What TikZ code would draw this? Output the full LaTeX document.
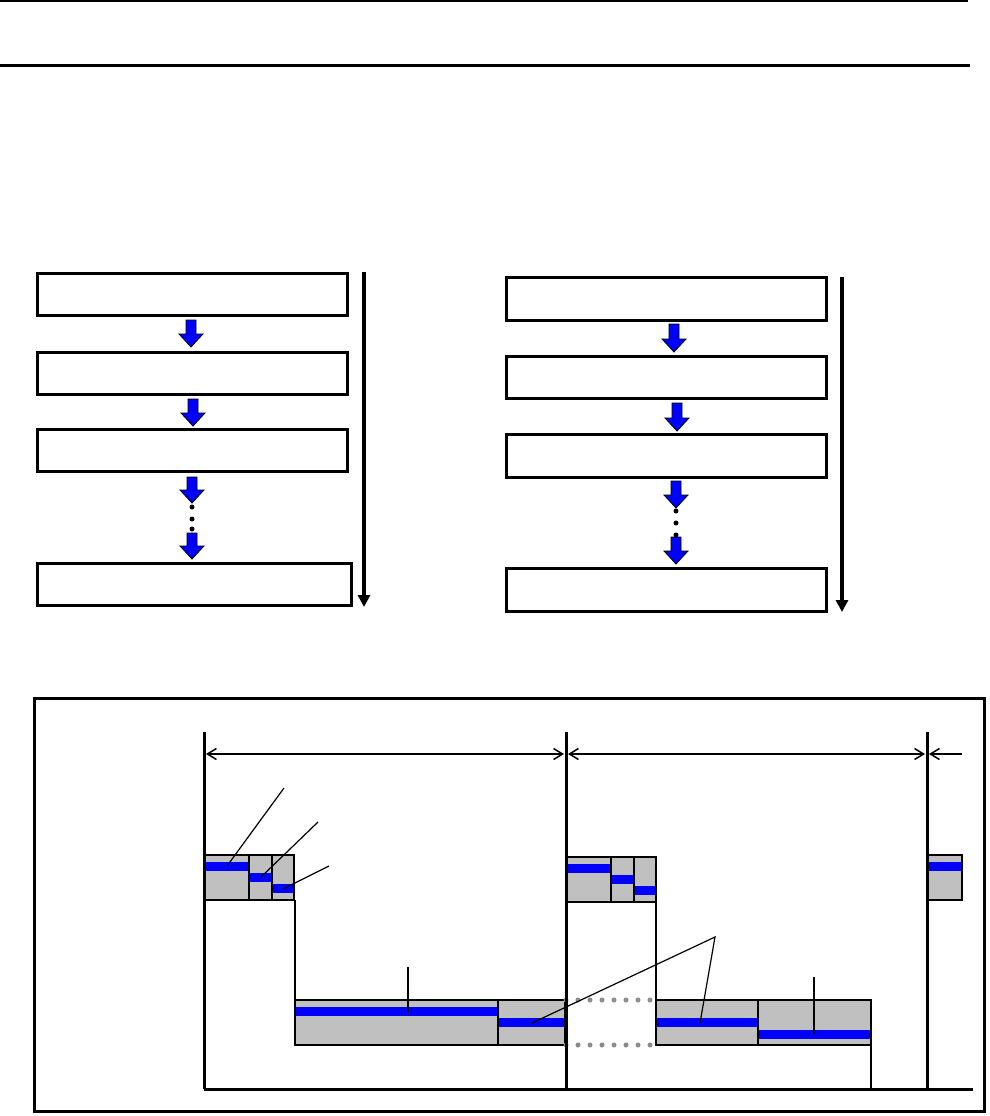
\documentclass[tikz,border=0pt]{standalone}
\usetikzlibrary{arrows.meta,calc}
\definecolor{slotgray}{HTML}{C0C0C0}
\definecolor{dotgray}{HTML}{8C8C8C}
\tikzset{
  flowbox/.style={draw=black, line width=3pt, minimum width=310pt, minimum height=42pt, inner sep=0pt},
  blockarrow/.style={draw=black, fill=blue, line width=0.8pt, line join=miter},
  longarrow/.style={-{Triangle[length=12pt,width=12pt]}, line width=4.5pt},
  dimarrow/.style={{Straight Barb[length=9pt,width=11pt]}-{Straight Barb[length=9pt,width=11pt]}, line width=1.5pt},
  halfdim/.style={{Straight Barb[length=9pt,width=11pt]}-, line width=1.5pt},
  slot/.style={fill=slotgray},
  slotedge/.style={draw=black, line width=1.6pt},
  bar/.style={fill=blue},
  trace/.style={line width=1.2pt},
  leader/.style={line width=1.2pt},
  axisline/.style={line width=3pt},
  gapdot/.style={circle, fill=dotgray, inner sep=0pt, minimum size=5pt}
}
\newcommand{\downblock}[3]{%
  \draw[blockarrow] (#1-5,#2) -- (#1+5,#2) -- (#1+5,#3-13) -- (#1+12,#3-13) -- (#1,#3)
    -- (#1-12,#3-13) -- (#1-5,#3-13) -- cycle;}
\begin{document}
\begin{tikzpicture}[x=1pt,y=-1pt]
\useasboundingbox (0,0) rectangle (989,1116);
% header rules
\coordinate (ruleA1) at (0,1);   \coordinate (ruleA2) at (968,1);
\coordinate (ruleB1) at (0,66);  \coordinate (ruleB2) at (970,66);
\draw[line width=1.5pt] (ruleA1) -- (ruleA2);
\draw[line width=3pt] (ruleB1) -- (ruleB2);

% left flow
\node[flowbox] (l1) at (192,294) {};
\node[flowbox] (l2) at (192,373) {};
\node[flowbox] (l3) at (192,450.5) {};
\node[flowbox, minimum width=314pt] (l4) at (194.5,584.5) {};
\downblock{191}{320}{347}
\downblock{193}{399}{426}
\downblock{192}{477}{503}
\downblock{192}{533}{559}
\foreach \y in {507,519,529} \fill (192,\y) circle (2.5);
\coordinate (ltop) at (364,272);
\coordinate (lbot) at (364,607);
\draw[longarrow] (ltop) -- (lbot);

% right flow
\node[flowbox, minimum width=320pt, minimum height=43pt] (r1) at (666.5,299) {};
\node[flowbox, minimum width=320pt] (r2) at (666.5,377.5) {};
\node[flowbox, minimum width=320pt, minimum height=43pt] (r3) at (666.5,456) {};
\node[flowbox, minimum width=320pt, minimum height=43pt] (r4) at (666.5,590) {};
\downblock{674}{324}{352}
\downblock{677}{403}{431}
\downblock{676}{481}{508}
\downblock{676}{537}{564}
\foreach \y in {511,523,535} \fill (676,\y) circle (2.5);
\coordinate (rtop) at (842,277);
\coordinate (rbot) at (842,612);
\draw[longarrow] (rtop) -- (rbot);

% timing chart
\draw[line width=3pt] (34.5,698.5) rectangle (984.5,1111.5);

% period 1
\fill[slot] (204,855) rectangle (294,900);
\fill[bar] (204,862) rectangle (249,871);
\fill[bar] (249,873) rectangle (272,882);
\fill[bar] (272,884) rectangle (294,893);
\draw[slotedge] (204,855) rectangle (294,900);
\draw[line width=1.2pt] (249,855) -- (249,900);
\draw[slotedge] (272,855) -- (272,900);
\draw[trace] (295,900) -- (295,1000);
\fill[slot] (295,1000) rectangle (565,1045);
\fill[bar] (295,1007) rectangle (498,1016);
\fill[bar] (498,1018) rectangle (565,1027);
\draw[slotedge] (295,1000) rectangle (565,1045);
\draw[line width=1.2pt] (498,1000) -- (498,1045);

% period 2
\fill[slot] (566,857) rectangle (656,902);
\fill[bar] (566,864) rectangle (611,873);
\fill[bar] (611,875) rectangle (634,884);
\fill[bar] (634,886) rectangle (656,895);
\draw[slotedge] (566,857) rectangle (656,902);
\draw[line width=1.2pt] (611,857) -- (611,902);
\draw[slotedge] (634,857) -- (634,902);
\draw[trace] (656,902) -- (656,1000);
\fill[slot] (656,1000) rectangle (871,1045);
\fill[bar] (656,1018) rectangle (758,1027);
\fill[bar] (758,1030) rectangle (871,1039);
\draw[slotedge] (656,1000) rectangle (871,1045);
\draw[slotedge] (758,1000) -- (758,1045);
\draw[trace] (871,1045) -- (871,1089);
\foreach \i in {0,...,7} {
  \node[gapdot] at (566+12*\i,1000) {};
  \node[gapdot] at (566+12*\i,1045) {};
}

% period 3
\fill[slot] (927,855) rectangle (962,900);
\fill[bar] (927,862) rectangle (962,871);
\draw[slotedge] (927,855) rectangle (962,900);

% axes
\coordinate (t0) at (204,732);
\coordinate (t1) at (566,732);
\coordinate (t2) at (927,732);
\coordinate (b0) at (204,1089);
\coordinate (b1) at (566,1089);
\coordinate (b2) at (927,1089);
\coordinate (bend) at (973,1089);
\draw[axisline] (t0) -- (b0);
\draw[axisline] (t1) -- (b1);
\draw[axisline] (t2) -- (b2);
\draw[axisline] (b0) -- (bend);
\draw[dimarrow] (206,754) -- (564,754);
\draw[dimarrow] (568,754) -- (925,754);
\draw[halfdim] (929,754) -- (962,754);

% leaders
\draw[leader] (284,788) -- (227,866);
\draw[leader] (318,822) -- (261,877);
\draw[leader] (329,866) -- (283,889);
\draw[leader] (408,967) -- (408,1012);
\draw[leader] (532,1023) -- (715,937) -- (700,1023);
\draw[leader] (814,977) -- (814,1034);
\end{tikzpicture}
\end{document}
